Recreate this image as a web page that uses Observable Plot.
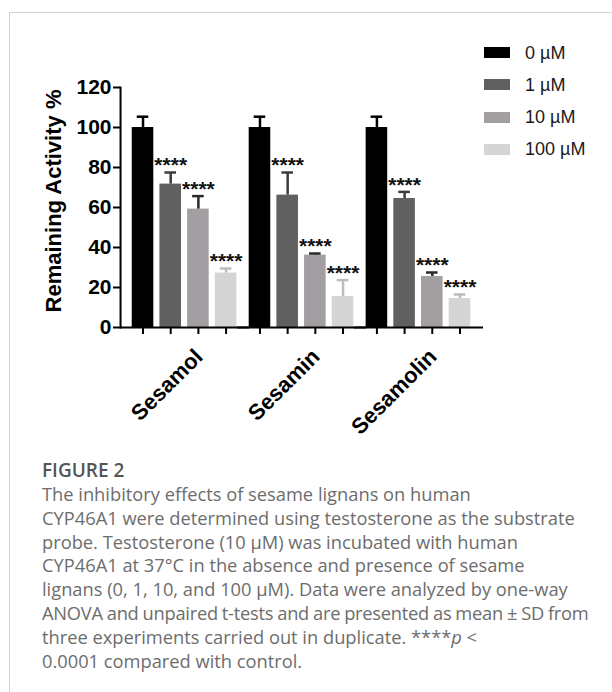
<!DOCTYPE html>
<html>
<head>
<meta charset="utf-8">
<script src="https://cdn.jsdelivr.net/npm/d3@7"></script>
<script src="https://cdn.jsdelivr.net/npm/@observablehq/plot@0.6"></script>
<style>
  html, body { margin: 0; padding: 0; background: #fff; }
  body { width: 612px; height: 692px; overflow: hidden; position: relative; font-family: "Liberation Sans", Arial, sans-serif; }
  #box { position: absolute; left: 9px; top: 12px; width: 700px; height: 800px; border-left: 1px solid #d2d2d2; border-top: 1px solid #d2d2d2; }
  #chart { position: absolute; left: 0; top: 0; }
  #legend { position: absolute; left: 0; top: 0; }
  .sw { position: absolute; left: 484px; width: 26px; height: 11px; }
  .lt { position: absolute; left: 525px; font-size: 18px; line-height: 20px; color: #1a1a1a; white-space: nowrap; }
  #caption { position: absolute; left: 42px; top: 458px; font-family: "Open Sans", sans-serif; color: #6d6d6d; font-size: 18.3px; line-height: 23.8px; white-space: nowrap; }
  #caption .fig { font-weight: 600; color: #555; font-size: 19px; line-height: 24px; }
  #caption .tight { letter-spacing: -0.25px; word-spacing: -0.5px; }
</style>
</head>
<body>
<div id="box"></div>
<div id="chart"></div>
<div id="legend"></div>
<div id="caption">
  <div class="fig">FIGURE 2</div>
  <div>The inhibitory effects of sesame lignans on human</div>
  <div>CYP46A1 were determined using testosterone as the substrate</div>
  <div>probe. Testosterone (10 µM) was incubated with human</div>
  <div>CYP46A1 at 37°C in the absence and presence of sesame</div>
  <div>lignans (0, 1, 10, and 100 µM). Data were analyzed by one-way</div>
  <div class="tight">ANOVA and unpaired t-tests and are presented as mean ± SD from</div>
  <div>three experiments carried out in duplicate. ****<i>p</i> &lt;</div>
  <div>0.0001 compared with control.</div>
</div>
<script>
// ---- data ----
const groups = ["Sesamol", "Sesamin", "Sesamolin"];
const concentrations = ["0 µM", "1 µM", "10 µM", "100 µM"];
const meanSesamol   = [100, 71.7, 59.2, 27.2];
const sdSesamol     = [5.4, 5.8, 6.5, 2.3];
const meanSesamin   = [100, 66.2, 36.2, 15.5];
const sdSesamin     = [5.4, 11.3, 0.8, 8.2];
const meanSesamolin = [100, 64.5, 25.5, 14.5];
const sdSesamolin   = [5.4, 3.3, 2.0, 2.0];
const significance  = ["", "****", "****", "****"];
const yTicks = [0, 20, 40, 60, 80, 100, 120];
const yLabel = "Remaining Activity %";

// ---- styles ----
const barColors = ["#000000", "#606060", "#a29ea2", "#d5d5d5"];
const errColors = ["#000000", "#3c3c3c", "#2a2a2a", "#bdbdbd"];

const means = [meanSesamol, meanSesamin, meanSesamolin];
const sds = [sdSesamol, sdSesamin, sdSesamolin];
const data = groups.flatMap((g, gi) => concentrations.map((c, ci) => ({
  group: g, conc: c, ci, mean: means[gi][ci], sd: sds[gi][ci], sig: significance[ci]
})));
const errTop = d => d.mean + d.sd;
const errStroke = d => errColors[d.ci];

const chart = Plot.plot({
  width: 612,
  height: 430,
  marginLeft: 120,
  marginRight: 130,
  marginTop: 87,
  marginBottom: 103,
  style: { fontFamily: '"Liberation Sans", Arial, sans-serif', color: "#000", background: "transparent", overflow: "visible" },
  fx: { domain: groups, paddingInner: 0.0532, paddingOuter: 0.0743, axis: null, round: false },
  x: { domain: concentrations, paddingInner: 0.221, paddingOuter: 0.11, round: false },
  y: { domain: [0, 120] },
  color: { domain: concentrations, range: barColors },
  marks: [
    Plot.barY(data, { fx: "group", x: "conc", y: "mean", fill: "conc" }),
    Plot.ruleX(data, { fx: "group", x: "conc", y1: "mean", y2: errTop, stroke: errStroke, strokeWidth: 2.5 }),
    Plot.tickY(data, { fx: "group", x: "conc", y: errTop, stroke: errStroke, strokeWidth: 2.5, insetLeft: 5, insetRight: 5 }),
    Plot.text(data.filter(d => d.sig), { fx: "group", x: "conc", y: errTop, text: "sig", fontSize: 21, fontWeight: "bold", lineAnchor: "middle", dy: -7, fill: "#111" }),
    Plot.ruleY([0], { insetLeft: -8.7, insetRight: -9.7, strokeWidth: 2, stroke: "#000" }),
    Plot.frame({ anchor: "left", facetAnchor: "left", insetLeft: -8.66, strokeWidth: 2, stroke: "#000" }),
    Plot.axisX({ tickSize: 7, strokeWidth: 2, tickFormat: () => "", label: null }),
    Plot.axisY({ ticks: yTicks, tickSize: 7, tickPadding: 2, strokeWidth: 2, fontSize: 21, fontWeight: "bold", dx: -8.66, label: null, tickFormat: d => String(d) }),
    Plot.text([yLabel], { fx: () => groups[0], text: d => d, frameAnchor: "left", rotate: -90, dx: -75.7, dy: -6.5, fontSize: 22, fontWeight: "bold", textAnchor: "middle", lineAnchor: "middle" }),
    Plot.text(groups, { fx: d => d, text: d => d, frameAnchor: "bottom", rotate: -45, textAnchor: "end", lineAnchor: "top", dx: 8.5, dy: 19.5, fontSize: 22, fontWeight: "bold" })
  ]
});
document.getElementById("chart").appendChild(chart);

// legend (HTML, built from the same colour scale)
const color = chart.scale("color");
const legend = document.getElementById("legend");
concentrations.forEach((c, i) => {
  const cy = 52.5 + 32.3 * i;
  const sw = document.createElement("div");
  sw.className = "sw";
  sw.style.top = (cy - 5.5) + "px";
  sw.style.background = color.apply(c);
  legend.appendChild(sw);
  const t = document.createElement("div");
  t.className = "lt";
  t.style.top = (cy - 10) + "px";
  t.textContent = c;
  legend.appendChild(t);
});
</script>
</body>
</html>
